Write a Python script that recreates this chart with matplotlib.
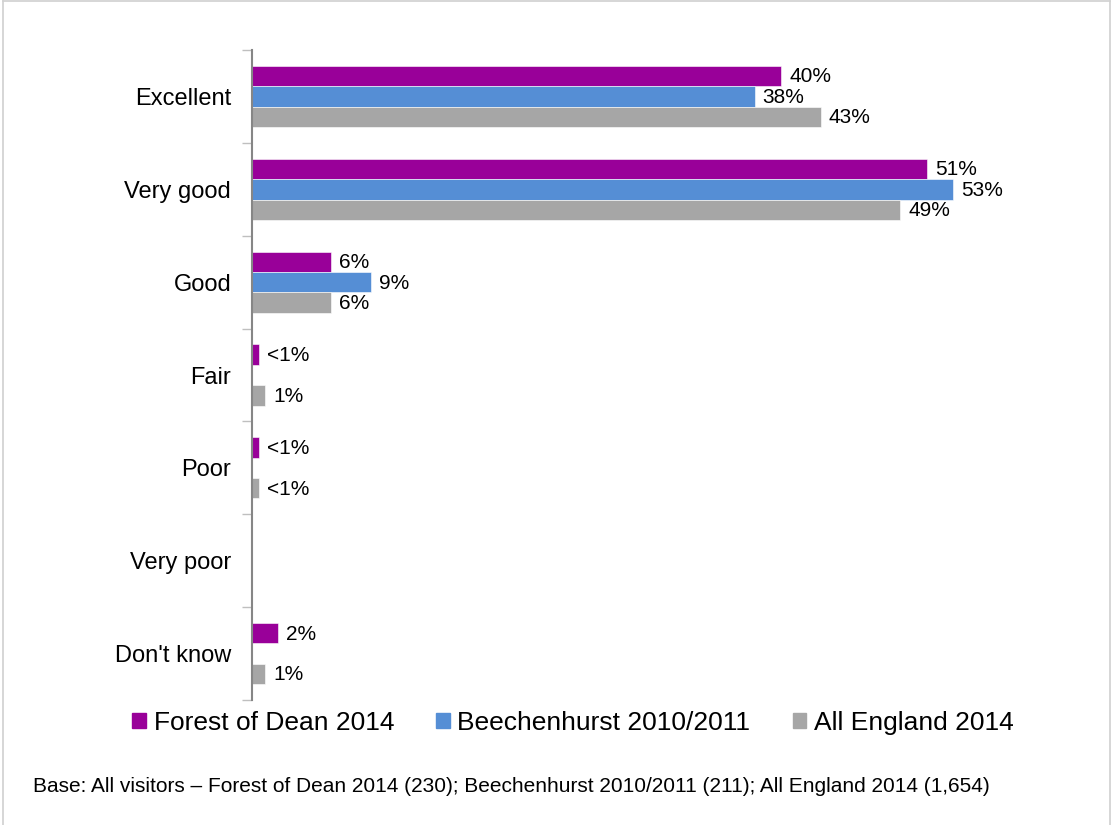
import numpy as np
import matplotlib.pyplot as plt
from matplotlib.lines import Line2D

plt.rcParams['font.family'] = ['Liberation Sans', 'DejaVu Sans']

categories = ["Excellent", "Very good", "Good", "Fair", "Poor", "Very poor", "Don't know"]
series = ["Forest of Dean 2014", "Beechenhurst 2010/2011", "All England 2014"]
colors = ["#990099", "#558ED5", "#A6A6A6"]

# nan = no bar / no label
forest = [40, 51, 6, 0.5, 0.5, np.nan, 2]
beech = [38, 53, 9, np.nan, np.nan, np.nan, np.nan]
england = [43, 49, 6, 1, 0.5, np.nan, 1]

forest_lbl = ["40%", "51%", "6%", "<1%", "<1%", "", "2%"]
beech_lbl = ["38%", "53%", "9%", "", "", "", ""]
england_lbl = ["43%", "49%", "6%", "1%", "<1%", "", "1%"]

values = [forest, beech, england]
labels = [forest_lbl, beech_lbl, england_lbl]

fig = plt.figure(figsize=(11.13, 8.25), dpi=100)
ax = fig.add_axes([252 / 1113, 1 - 700 / 825, 860 / 1113, 650 / 825])

y = np.arange(len(categories))
h = 0.22
offsets = [-h, 0, h]

for vals, lbls, col, off, name in zip(values, labels, colors, offsets, series):
    v = np.array(vals, dtype=float)
    ok = ~np.isnan(v)
    ax.barh(y[ok] + off, v[ok], height=h, color=col, label=name,
            edgecolor="white", linewidth=0.4)
    for yi, vi, li in zip(y, v, lbls):
        if li:
            ax.text(vi + 0.6, yi + off + 0.01, li, va="center", ha="left", fontsize=15)

ax.set_xlim(0, 65)
ax.set_ylim(len(categories) - 0.5, -0.5)

ax.set_yticks(np.arange(len(categories) + 1) - 0.5)
ax.set_yticklabels([])
ax.set_yticks(y, minor=True)
ax.set_yticklabels(categories, minor=True, fontsize=17)
ax.tick_params(axis="y", which="major", length=7, color="#BFBFBF", width=1)
ax.tick_params(axis="y", which="minor", length=0, pad=15)
ax.set_xticks([])

for s in ["top", "right", "bottom"]:
    ax.spines[s].set_visible(False)
ax.spines["left"].set_color("#868686")
ax.spines["left"].set_linewidth(1.5)

handles = [plt.Rectangle((0, 0), 1, 1, color=c) for c in colors]
fig.legend(handles, series, loc="center", bbox_to_anchor=(573 / 1113, 1 - 723 / 825),
           ncol=3, frameon=False, fontsize=19, handlelength=0.5, handleheight=0.5,
           handletextpad=0.3, columnspacing=1.6)

fig.text(33 / 1113, 1 - 787 / 825,
         "Base: All visitors \u2013 Forest of Dean 2014 (230); Beechenhurst 2010/2011 (211); All England 2014 (1,654)",
         fontsize=15, va="center", ha="left")

# light border around the chart area
bc = "#D0D0D0"
fig.add_artist(Line2D([3 / 1113, 3 / 1113], [0, 1 - 1 / 825], color=bc, lw=1.2))
fig.add_artist(Line2D([3 / 1113, 1110 / 1113], [1 - 1 / 825, 1 - 1 / 825], color=bc, lw=1.2))
fig.add_artist(Line2D([1110 / 1113, 1110 / 1113], [0, 1 - 1 / 825], color=bc, lw=1.2))

fig.savefig("out.png", dpi=100)
